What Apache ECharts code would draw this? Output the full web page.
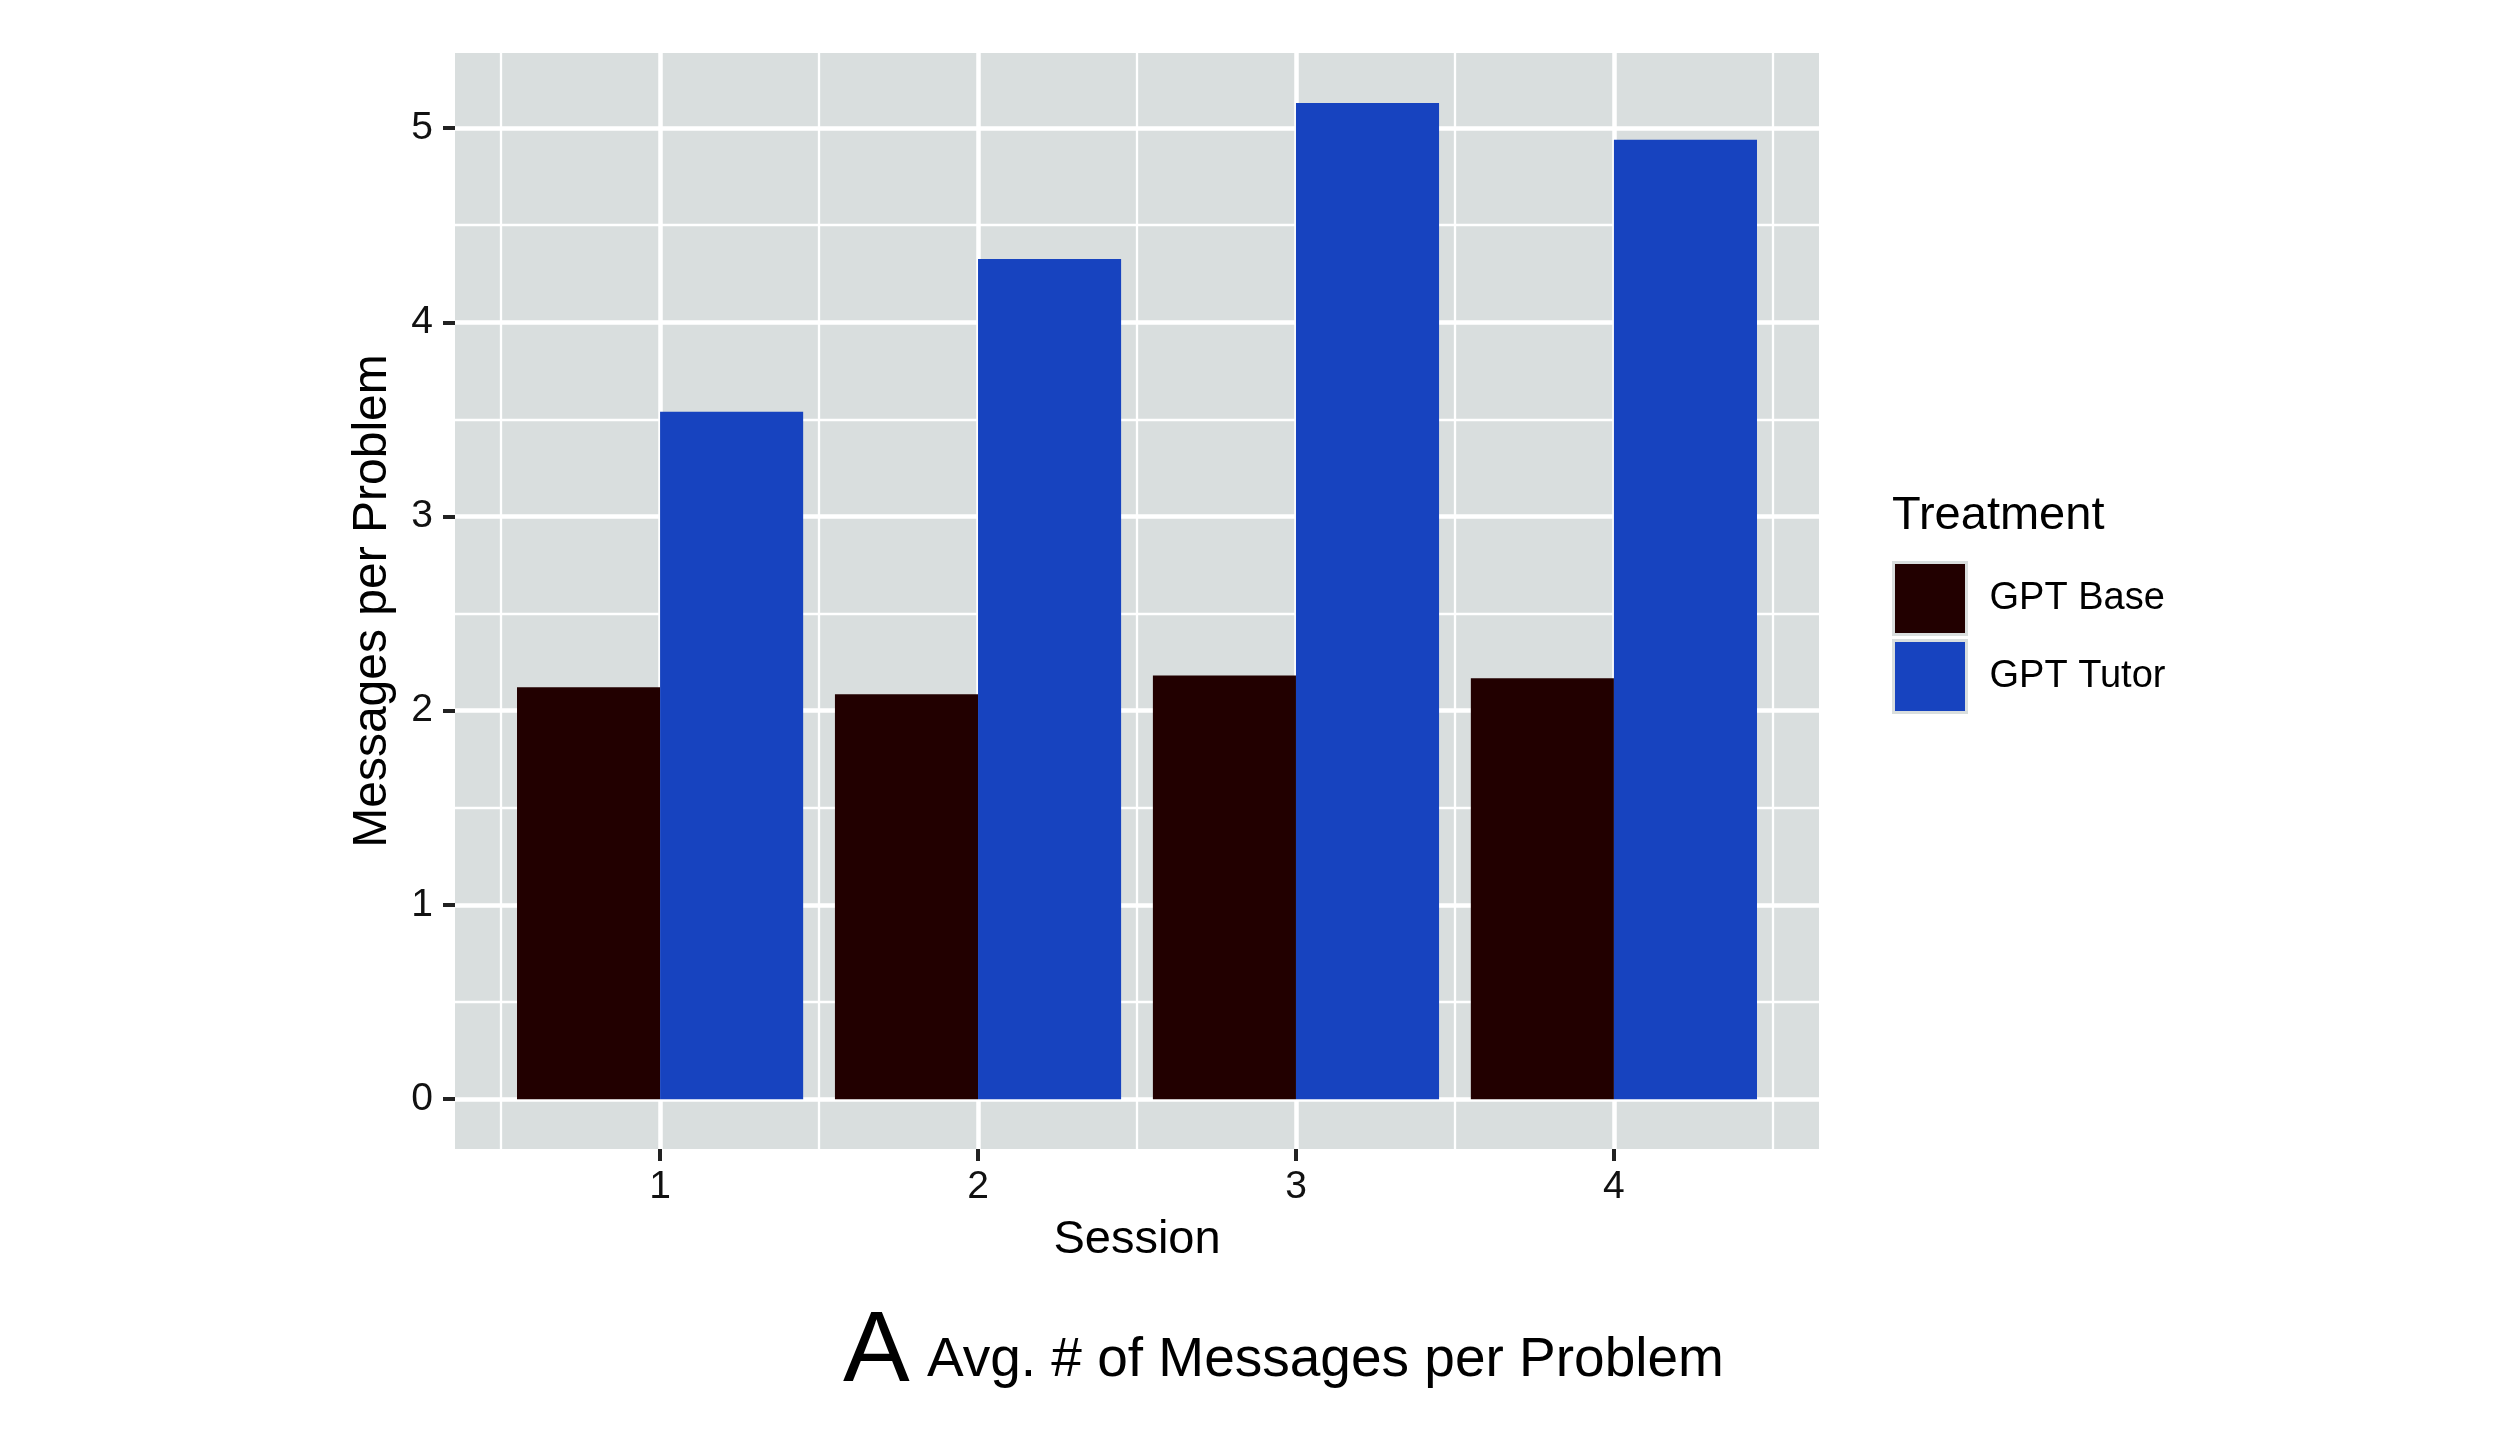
<!DOCTYPE html>
<html>
<head>
<meta charset="utf-8">
<script src="https://cdn.jsdelivr.net/npm/echarts@6/dist/echarts.min.js"></script>
<style>
html,body{margin:0;padding:0;background:#fff;}
#chart{width:2520px;height:1440px;}
</style>
</head>
<body>
<div id="chart"></div>
<script>
// ---- data ----
const sessions = [1, 2, 3, 4];
const seriesNames = ['GPT Base', 'GPT Tutor'];
const gptBase = [2.121, 2.085, 2.181, 2.167];
const gptTutor = [3.540, 4.326, 5.129, 4.940];
const yMajorTicks = [0, 1, 2, 3, 4, 5];
const yMinorTicks = [0.5, 1.5, 2.5, 3.5, 4.5];
const xMajorTicks = [1, 2, 3, 4];
const xMinorTicks = [0.5, 1.5, 2.5, 3.5, 4.5];
const xRange = [0.355, 4.645];
const yRange = [-0.2565, 5.3865];

const FONT = '"Liberation Sans", Arial, Helvetica, sans-serif';
const PANEL = '#D9DEDE';
const BASE_COLOR = '#220000';
const TUTOR_COLOR = '#1743BF';

const chart = echarts.init(document.getElementById('chart'), null, {renderer: 'canvas'});

const option = {
  backgroundColor: '#ffffff',
  animation: false,
  textStyle: {fontFamily: FONT},
  grid: {
    left: 455, top: 53, width: 1364, height: 1096,
    show: true, backgroundColor: PANEL, borderWidth: 0,
    containLabel: false
  },
  legend: {
    data: seriesNames,
    orient: 'vertical',
    left: 1892, top: 561,
    padding: 0,
    itemWidth: 73, itemHeight: 72, itemGap: 3,
    icon: 'rect',
    itemStyle: {borderColor: PANEL, borderWidth: 3},
    textStyle: {fontSize: 38, color: '#000', fontFamily: FONT, padding: [0, 0, 0, 18]},
    selectedMode: false
  },
  xAxis: [
    {
      type: 'value', min: xRange[0], max: xRange[1],
      name: 'Session', nameLocation: 'middle', nameGap: 68,
      nameTextStyle: {fontSize: 47, color: '#000', fontFamily: FONT},
      axisLine: {show: false, onZero: false},
      axisTick: {show: true, length: 12, customValues: xMajorTicks, lineStyle: {color: '#222', width: 4}},
      axisLabel: {show: true, customValues: xMajorTicks, fontSize: 39, color: '#111', margin: 19, fontFamily: FONT},
      splitLine: {show: true, lineStyle: {color: '#fff', width: 4.5}}
    },
    {
      type: 'value', min: xRange[0], max: xRange[1], position: 'top',
      axisLine: {show: false, onZero: false},
      axisTick: {show: false, customValues: xMinorTicks},
      axisLabel: {show: false, customValues: xMinorTicks},
      splitLine: {show: true, lineStyle: {color: '#fff', width: 2.3}}
    }
  ],
  yAxis: [
    {
      type: 'value', min: yRange[0], max: yRange[1],
      name: 'Messages per Problem', nameLocation: 'middle', nameGap: 58,
      nameTextStyle: {fontSize: 48, color: '#000', fontFamily: FONT},
      axisLine: {show: false, onZero: false},
      axisTick: {show: true, length: 12, customValues: yMajorTicks, lineStyle: {color: '#222', width: 4}},
      axisLabel: {show: true, customValues: yMajorTicks, fontSize: 39, color: '#111', margin: 22, fontFamily: FONT},
      splitLine: {show: true, lineStyle: {color: '#fff', width: 4.5}}
    },
    {
      type: 'value', min: yRange[0], max: yRange[1], position: 'right',
      axisLine: {show: false, onZero: false},
      axisTick: {show: false, customValues: yMinorTicks},
      axisLabel: {show: false, customValues: yMinorTicks},
      splitLine: {show: true, lineStyle: {color: '#fff', width: 2.3}}
    }
  ],
  series: [
    {
      name: seriesNames[0], type: 'bar', xAxisIndex: 0, yAxisIndex: 0,
      barWidth: '45%', barGap: '0%',
      itemStyle: {color: BASE_COLOR},
      data: sessions.map((s, i) => [s, gptBase[i]])
    },
    {
      name: seriesNames[1], type: 'bar', xAxisIndex: 0, yAxisIndex: 0,
      barWidth: '45%', barGap: '0%',
      itemStyle: {color: TUTOR_COLOR},
      data: sessions.map((s, i) => [s, gptTutor[i]])
    }
  ],
  graphic: [
    {
      type: 'text', left: 1892, top: 493,
      style: {text: 'Treatment', font: '47px ' + FONT, fill: '#000'}
    },
    {
      type: 'text', left: 843, top: 1303,
      style: {text: 'A', font: '100px ' + FONT, fill: '#000'}
    },
    {
      type: 'text', left: 927, top: 1333,
      style: {text: 'Avg. # of Messages per Problem', font: '55px ' + FONT, fill: '#000'}
    }
  ]
};

chart.setOption(option);
</script>
</body>
</html>
